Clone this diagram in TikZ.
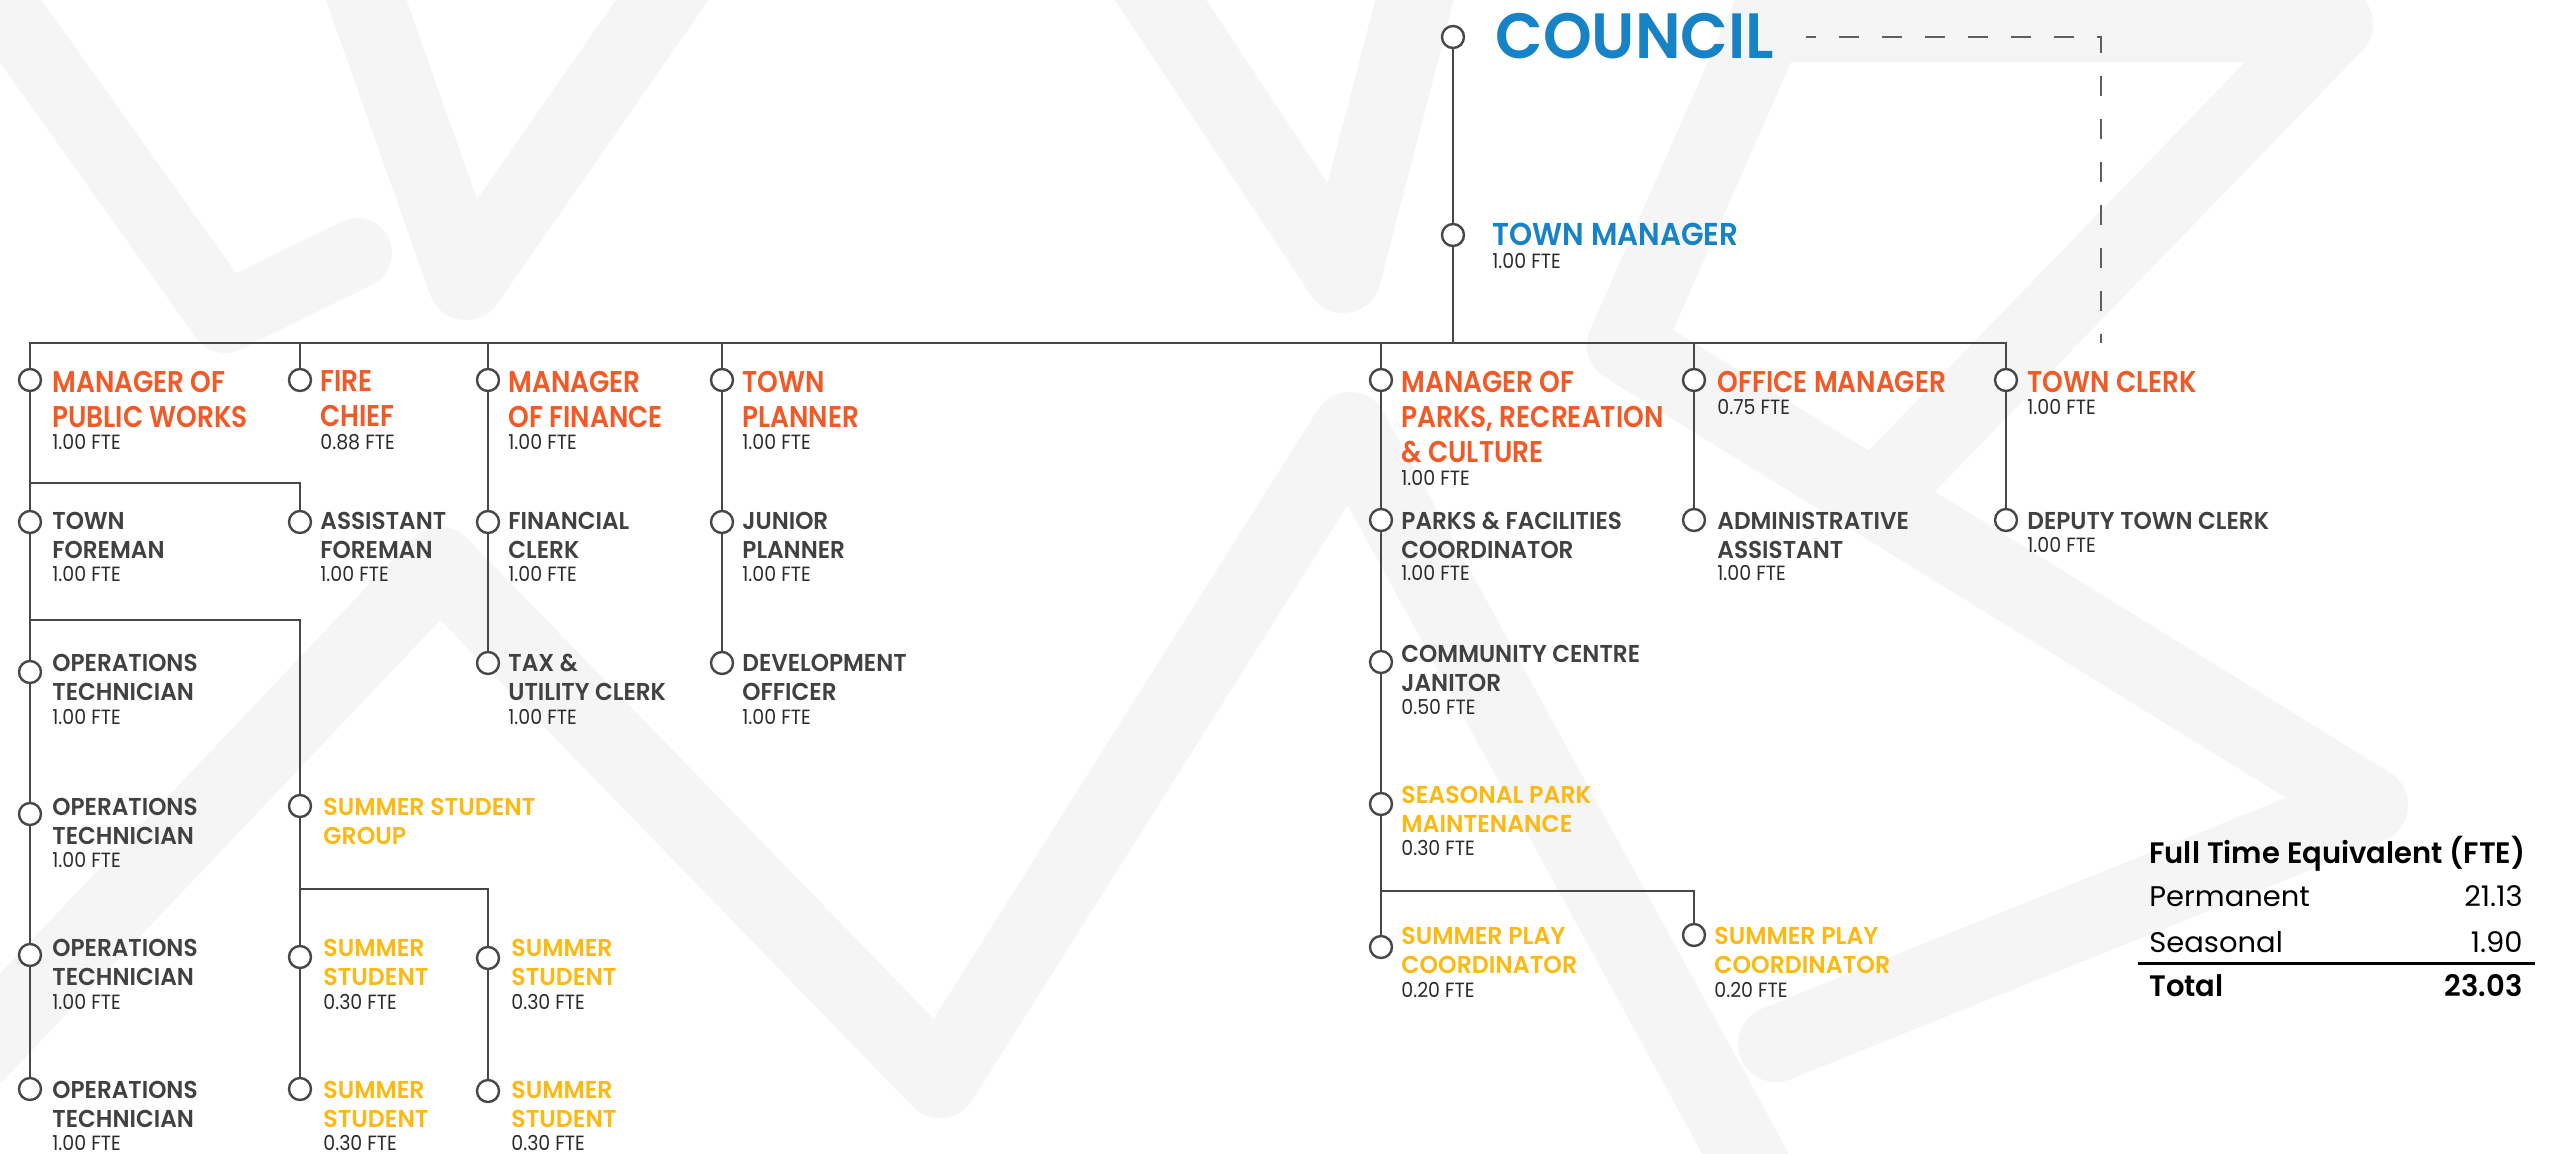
\documentclass[tikz,border=0pt]{standalone}
\usepackage{fontspec}
\setmainfont{Poppins}
\newfontfamily\fCouncil{Poppins}[UprightFont=* SemiBold, FakeStretch=0.97]
\newfontfamily\fManager{Poppins}[UprightFont=* SemiBold, FakeStretch=0.93]
\newfontfamily\fHead{Poppins}[UprightFont=* SemiBold, FakeStretch=0.88]
\newfontfamily\fSub{Poppins}[UprightFont=* SemiBold, FakeStretch=0.95]
\newfontfamily\fSeas{Poppins}[UprightFont=* SemiBold, FakeStretch=0.97]
\newfontfamily\fFte{Poppins}[FakeStretch=0.92]
\newfontfamily\fTab{Poppins}[FakeStretch=1.02]
\newfontfamily\fTabB{Poppins}[UprightFont=* SemiBold, FakeStretch=0.98]

\definecolor{cBlue}{HTML}{1782C5}
\definecolor{cOrange}{HTML}{F15A27}
\definecolor{cYellow}{HTML}{FDB913}
\definecolor{cGrayText}{HTML}{414141}
\definecolor{cLine}{HTML}{474747}
\definecolor{cFte}{HTML}{2B2B2B}
\definecolor{cDash}{HTML}{5E5E5E}
\definecolor{cMark}{HTML}{F5F5F5}

\tikzset{
  dot/.style={circle, draw=cLine, line width=1.2pt, fill=white, minimum size=11pt, inner sep=0pt},
  link/.style={draw=cLine, line width=1.2pt},
  dashlink/.style={draw=cDash, line width=1pt, dash pattern=on 10pt off 11.5pt, dash phase=5pt},
  head/.style={anchor=north west, align=left, inner sep=0pt, text=cOrange,
    font=\fHead\fontsize{15}{17.5}\selectfont},
  sub/.style={anchor=north west, align=left, inner sep=0pt, text=cGrayText,
    font=\fSub\fontsize{12.2}{14.75}\selectfont},
  seas/.style={anchor=north west, align=left, inner sep=0pt, text=cYellow,
    font=\fSeas\fontsize{12.2}{14.5}\selectfont},
  fte/.style={anchor=west, inner sep=0pt, text=cFte, font=\fFte\fontsize{10.3}{12}\selectfont},
  tabtxt/.style={inner sep=0pt, text=black, font=\fTab\fontsize{14.2}{16}\selectfont},
  tabbold/.style={inner sep=0pt, text=black, font=\fTabB\fontsize{14.8}{16}\selectfont},
  bgstroke/.style={draw=cMark, line cap=round, line join=round, line width=38pt},
}

\begin{document}
\begin{tikzpicture}[x=0.5pt, y=-0.5pt]
\fill[white] (0,0) rectangle (2560,1153);
\useasboundingbox (0,0) rectangle (2560,1153);

% ---------- faint background lettering ----------
\begin{scope}
\clip (0,0) rectangle (2560,1153);
\draw[bgstroke, line width=35pt] (-30,-40) -- (225,318) -- (357,253);
\draw[bgstroke] (352,-40) -- (466,282) -- (690,-40);
\draw[bgstroke] (-60,1092) -- (440,565) -- (940,1080) -- (1350,430) -- (1760,1180);
\draw[bgstroke] (1134,-40) -- (1343,275) -- (1425,-40);
\draw[bgstroke] (1790,-30) -- (1625,345) -- (2370,805) -- (1776,1044);
\draw[bgstroke] (1790,24) -- (2335,24) -- (1895,478);
\end{scope}

% ---------- top of the hierarchy ----------
\node[dot] (council) at (1453,37) {};
\node[anchor=west, inner sep=0pt, text=cBlue, font=\fCouncil\fontsize{32}{34}\selectfont] (councilT) at (1495,36) {COUNCIL};
\node[dot] (tm) at (1453,235) {};
\node[anchor=west, inner sep=0pt, text=cBlue, font=\fManager\fontsize{15.8}{17.5}\selectfont] (tmT) at (1492,234) {TOWN MANAGER};
\node[fte] (tmF) at (1492,261) {1.00 FTE};

% ---------- department heads ----------
\node[dot] (pw) at (30,380) {};
\node[head] (pwT) at (52,370.5) {MANAGER OF\\PUBLIC WORKS};
\node[fte] (pwF) at (52,442) {1.00 FTE};

\node[dot] (fire) at (300,380) {};
\node[head] (fireT) at (320,370.5) {FIRE\\CHIEF};
\node[fte] (fireF) at (320,442) {0.88 FTE};

\node[dot] (fin) at (488,380) {};
\node[head] (finT) at (508,370.5) {MANAGER\\OF FINANCE};
\node[fte] (finF) at (508,442) {1.00 FTE};

\node[dot] (plan) at (722,380) {};
\node[head] (planT) at (742,370.5) {TOWN\\PLANNER};
\node[fte] (planF) at (742,442) {1.00 FTE};

\node[dot] (parks) at (1381,380) {};
\node[head] (parksT) at (1401,370.5) {MANAGER OF\\PARKS, RECREATION\\\& CULTURE};
\node[fte] (parksF) at (1401,478) {1.00 FTE};

\node[dot] (office) at (1694,380) {};
\node[head] (officeT) at (1717,370.5) {OFFICE MANAGER};
\node[fte] (officeF) at (1717,407) {0.75 FTE};

\node[dot] (clerk) at (2006,380) {};
\node[head] (clerkT) at (2027,370.5) {TOWN CLERK};
\node[fte] (clerkF) at (2027,407) {1.00 FTE};

% ---------- public works ----------
\node[dot] (tf) at (30,522) {};
\node[sub] (tfT) at (52,511.5) {TOWN\\FOREMAN};
\node[fte] (tfF) at (52,574) {1.00 FTE};

\node[dot] (af) at (300,522) {};
\node[sub] (afT) at (320,511.5) {ASSISTANT\\FOREMAN};
\node[fte] (afF) at (320,574) {1.00 FTE};

\node[dot] (ot1) at (30,672) {};
\node[sub] (ot1T) at (52,653.5) {OPERATIONS\\TECHNICIAN};
\node[fte] (ot1F) at (52,717) {1.00 FTE};

\node[dot] (ot2) at (30,814) {};
\node[sub] (ot2T) at (52,797.5) {OPERATIONS\\TECHNICIAN};
\node[fte] (ot2F) at (52,860) {1.00 FTE};

\node[dot] (ot3) at (30,955) {};
\node[sub] (ot3T) at (52,938.5) {OPERATIONS\\TECHNICIAN};
\node[fte] (ot3F) at (52,1002) {1.00 FTE};

\node[dot] (ot4) at (30,1089) {};
\node[sub] (ot4T) at (52,1080.5) {OPERATIONS\\TECHNICIAN};
\node[fte] (ot4F) at (52,1143) {1.00 FTE};

\node[dot] (ssg) at (300,806) {};
\node[seas] (ssgT) at (323,797.5) {SUMMER STUDENT\\GROUP};

\node[dot] (ss1) at (300,957) {};
\node[seas] (ss1T) at (323,938.5) {SUMMER\\STUDENT};
\node[fte] (ss1F) at (323,1002) {0.30 FTE};

\node[dot] (ss2) at (488,958) {};
\node[seas] (ss2T) at (511,938.5) {SUMMER\\STUDENT};
\node[fte] (ss2F) at (511,1002) {0.30 FTE};

\node[dot] (ss3) at (300,1089) {};
\node[seas] (ss3T) at (323,1080.5) {SUMMER\\STUDENT};
\node[fte] (ss3F) at (323,1143) {0.30 FTE};

\node[dot] (ss4) at (488,1091) {};
\node[seas] (ss4T) at (511,1080.5) {SUMMER\\STUDENT};
\node[fte] (ss4F) at (511,1143) {0.30 FTE};

% ---------- finance ----------
\node[dot] (fc) at (488,522) {};
\node[sub] (fcT) at (508,511.5) {FINANCIAL\\CLERK};
\node[fte] (fcF) at (508,574) {1.00 FTE};

\node[dot] (tuc) at (488,663) {};
\node[sub] (tucT) at (508,653.5) {TAX \&\\UTILITY CLERK};
\node[fte] (tucF) at (508,717) {1.00 FTE};

% ---------- planning ----------
\node[dot] (jp) at (722,522) {};
\node[sub] (jpT) at (742,511.5) {JUNIOR\\PLANNER};
\node[fte] (jpF) at (742,574) {1.00 FTE};

\node[dot] (dev) at (722,663) {};
\node[sub] (devT) at (742,653.5) {DEVELOPMENT\\OFFICER};
\node[fte] (devF) at (742,717) {1.00 FTE};

% ---------- parks, recreation & culture ----------
\node[dot] (pfc) at (1381,520) {};
\node[sub] (pfcT) at (1401,511.5) {PARKS \& FACILITIES\\COORDINATOR};
\node[fte] (pfcF) at (1401,573) {1.00 FTE};

\node[dot] (ccj) at (1381,662) {};
\node[sub] (ccjT) at (1401,644.5) {COMMUNITY CENTRE\\JANITOR};
\node[fte] (ccjF) at (1401,707) {0.50 FTE};

\node[dot] (spm) at (1381,804) {};
\node[seas] (spmT) at (1401,785.5) {SEASONAL PARK\\MAINTENANCE};
\node[fte] (spmF) at (1401,848) {0.30 FTE};

\node[dot] (spc1) at (1381,947) {};
\node[seas] (spc1T) at (1401,926.5) {SUMMER PLAY\\COORDINATOR};
\node[fte] (spc1F) at (1401,990) {0.20 FTE};

\node[dot] (spc2) at (1694,935) {};
\node[seas] (spc2T) at (1714,926.5) {SUMMER PLAY\\COORDINATOR};
\node[fte] (spc2F) at (1714,990) {0.20 FTE};

% ---------- office and clerk ----------
\node[dot] (aa) at (1694,520) {};
\node[sub] (aaT) at (1717,511.5) {ADMINISTRATIVE\\ASSISTANT};
\node[fte] (aaF) at (1717,573) {1.00 FTE};

\node[dot] (dtc) at (2006,520) {};
\node[sub] (dtcT) at (2027,511.5) {DEPUTY TOWN CLERK};
\node[fte] (dtcF) at (2027,545) {1.00 FTE};

% ---------- connectors ----------
\coordinate (busY) at (0,343);
\coordinate (pwY) at (0,483);
\coordinate (opsY) at (0,620);
\coordinate (stuY) at (0,889);
\coordinate (playY) at (0,891);
\coordinate (dashA) at (1806,37);
\coordinate (dashB) at (2101,343);

\draw[link] (council) -- (tm);
\draw[link] (tm) -- (tm |- busY);
\draw[link] (pw) |- (clerk |- busY) -- (clerk);
\foreach \n in {fire,fin,plan,parks,office}
  \draw[link] (\n) -- (\n |- busY);

\draw[link] (pw) -- (tf);
\draw[link] (pw |- pwY) -| (af);
\draw[link] (tf) -- (ot1);
\draw[link] (ot1) -- (ot2);
\draw[link] (ot2) -- (ot3);
\draw[link] (ot3) -- (ot4);
\draw[link] (tf |- opsY) -| (ssg);
\draw[link] (ssg) -- (ss1);
\draw[link] (ss1) -- (ss3);
\draw[link] (ssg |- stuY) -| (ss2);
\draw[link] (ss2) -- (ss4);

\draw[link] (fin) -- (fc);
\draw[link] (fc) -- (tuc);
\draw[link] (plan) -- (jp);
\draw[link] (jp) -- (dev);

\draw[link] (parks) -- (pfc);
\draw[link] (pfc) -- (ccj);
\draw[link] (ccj) -- (spm);
\draw[link] (spm) -- (spc1);
\draw[link] (spm |- playY) -| (spc2);

\draw[link] (office) -- (aa);
\draw[link] (clerk) -- (dtc);

\draw[dashlink] (dashA) -| (dashB);

% ---------- FTE summary ----------
\node[tabbold, anchor=base west] (ftH) at (2149,863) {Full Time Equivalent (FTE)};
\node[tabtxt, anchor=base west] (perm) at (2149,906) {Permanent};
\node[tabtxt, anchor=base east] (permV) at (2523,906) {21.13};
\node[tabtxt, anchor=base west] (seasn) at (2149,952) {Seasonal};
\node[tabtxt, anchor=base east] (seasV) at (2523,952) {1.90};
\draw[line width=1.5pt, black] (2138,963) -- (2535,963);
\node[tabbold, anchor=base west] (tot) at (2149,996) {Total};
\node[tabbold, anchor=base east] (totV) at (2523,996) {23.03};
\end{tikzpicture}
\end{document}
